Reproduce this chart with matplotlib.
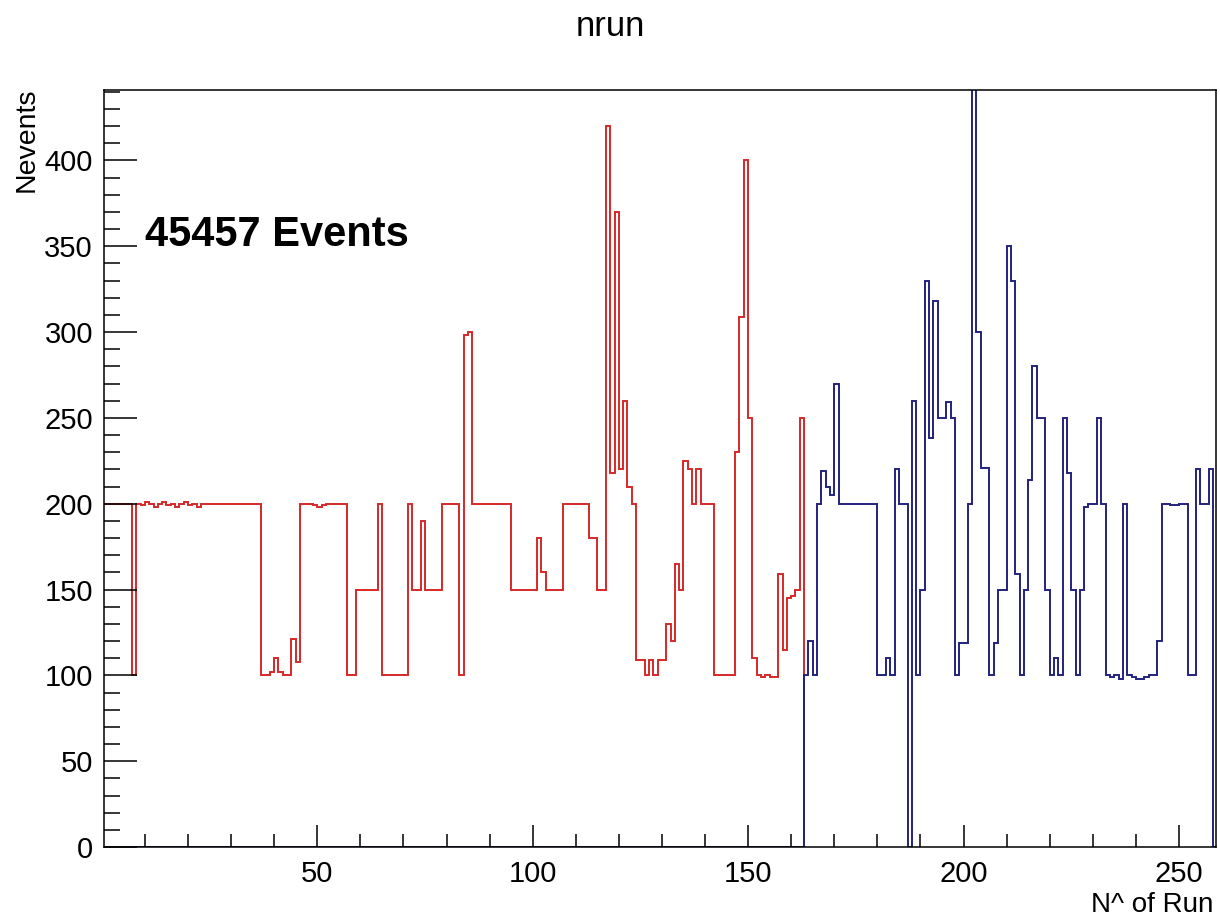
import numpy as np
import matplotlib
matplotlib.use('Agg')
from matplotlib import pyplot as plt
from matplotlib.ticker import MultipleLocator

plt.rcParams['font.family'] = ['Liberation Sans', 'DejaVu Sans']

# events per run, one bin per run number (bin i covers [i, i+1])
red_counts = [
    200, 200, 200, 200, 200, 200, 200,
    100,
    200, 199, 201, 200, 198, 200, 201, 199, 200, 198, 200, 201, 199, 200, 198, 200,
    200, 200, 200, 200, 200, 200, 200, 200, 200, 200, 200, 200, 200,
    100, 100,
    102, 110, 102, 100, 100, 121, 108,
    200, 200, 200, 199, 198, 199, 200, 200, 200, 200, 200,
    100, 100,
    150, 150, 150, 150, 150,
    200,
    100, 100, 100, 100, 100, 100,
    200,
    150, 150,
    190,
    150, 150, 150, 150,
    200, 200, 200, 200,
    100,
    298, 300,
    200, 200, 200, 200, 200, 200, 200, 200, 200,
    150, 150, 150, 150, 150, 150,
    180, 160,
    150, 150, 150, 150,
    200, 200, 200, 200, 200, 200,
    180, 180,
    150, 150,
    420, 218, 370, 220, 260, 210, 200,
    109, 109, 100, 109, 100, 109, 109,
    130, 120, 165, 150,
    225, 220, 200, 220,
    200, 200, 200,
    100, 100, 100, 100, 100,
    230, 309, 400, 250, 110,
    100, 99, 100, 99, 99,
    159, 115, 145, 146, 150, 250,
]

blue_start = 163
blue_counts = [
    100, 120, 100, 200, 219, 210, 205, 270,
    200, 200, 200, 200, 200, 200, 200, 200, 200,
    100, 100, 110, 100, 220, 200, 200, 0,
    260, 100, 150, 330, 238, 318, 250, 250, 259, 250,
    100, 119, 119, 200, 460, 300, 221, 221,
    100, 119, 150, 150, 350, 330, 159,
    100, 150, 214, 280, 250, 250, 150,
    100, 110, 100, 250,
    218, 150, 100, 150, 198, 200, 200, 250, 200,
    100, 99, 100, 98,
    200,
    100, 99, 98, 98, 99, 100, 100,
    120,
    200, 200, 199, 199, 200, 200,
    100, 100,
    220, 200, 200, 220, 0,
]

title = 'nrun'
x_title = 'N^ of Run'
y_title = 'Nevents'
n_events = 45457

RED = '#d62828'
BLUE = '#22227f'


def main():
    fig = plt.figure(figsize=(12.2, 9.19), dpi=100)
    ax = fig.add_axes([104 / 1220, 1 - 847 / 919, (1216 - 104) / 1220, (847 - 90) / 919])

    red = np.array(red_counts, dtype=float)
    red_edges = np.arange(len(red) + 1)

    blue = np.concatenate([np.zeros(blue_start), np.array(blue_counts, dtype=float)])
    blue_edges = np.arange(len(blue) + 1)

    ax.stairs(red, red_edges, baseline=0, color=RED, lw=1.4)
    ax.stairs(blue, blue_edges, baseline=0, color=BLUE, lw=1.4)

    ax.set_xlim(0.5, 258.6)
    ax.set_ylim(0, 441)

    # ROOT-like axes: ticks inside, only bottom and left
    ax.xaxis.set_major_locator(MultipleLocator(50))
    ax.xaxis.set_minor_locator(MultipleLocator(10))
    ax.yaxis.set_major_locator(MultipleLocator(50))
    ax.yaxis.set_minor_locator(MultipleLocator(10))
    ax.tick_params(axis='both', which='both', direction='in', top=False, right=False,
                   labelsize=21, width=1.1, colors='black')
    ax.tick_params(axis='x', which='major', length=16, pad=9)
    ax.tick_params(axis='x', which='minor', length=9.5)
    ax.tick_params(axis='y', which='major', length=24, pad=8)
    ax.tick_params(axis='y', which='minor', length=11.5)
    for spine in ax.spines.values():
        spine.set_linewidth(1.1)

    fig.text(610 / 1220, 1 - 27 / 919, title, ha='center', va='center', fontsize=25)
    fig.text(1213 / 1220, 1 - 905 / 919, x_title, ha='right', va='center', fontsize=20)
    fig.text(27 / 1220, 1 - 88 / 919, y_title, ha='center', va='top', rotation=90, fontsize=20.5)
    fig.text(145 / 1220, 1 - 235 / 919, '%d Events' % n_events, ha='left', va='center',
             fontsize=30, fontweight='bold')

    fig.savefig('out.png', dpi=100)


if __name__ == '__main__':
    main()
